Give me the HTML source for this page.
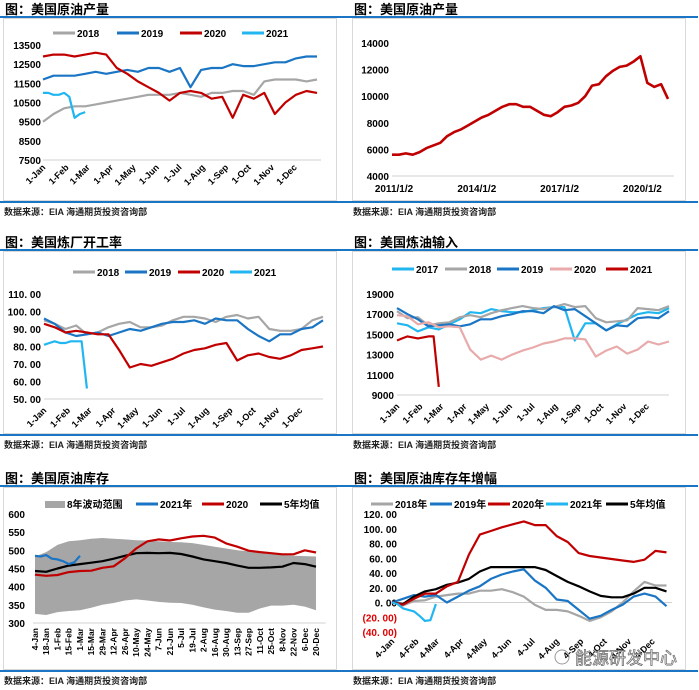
<!DOCTYPE html>
<html><head><meta charset="utf-8">
<style>
html,body{margin:0;padding:0;background:#fff;}
svg{display:block;font-family:"Liberation Sans","Noto Sans CJK SC",sans-serif;}
</style></head>
<body>
<svg id="root" width="699" height="690" viewBox="0 0 699 690" xmlns="http://www.w3.org/2000/svg"></svg>
<script>
// ---------- data ----------
// Panel 1: US crude production (weekly index, biweekly samples)
const p1Cats = ['1-Jan','1-Feb','1-Mar','1-Apr','1-May','1-Jun','1-Jul','1-Aug','1-Sep','1-Oct','1-Nov','1-Dec'];
const p1Ticks = [13500,12500,11500,10500,9500,8500,7500];
const p1S2018 = [9500,9900,10200,10300,10300,10400,10500,10600,10700,10800,10900,10900,10900,11000,10900,10800,11000,11000,11100,11100,10900,11600,11700,11700,11700,11600,11700];
const p1S2019 = [11700,11900,11900,11900,12000,12100,12000,12100,12200,12100,12300,12300,12100,12300,11300,12200,12300,12300,12500,12400,12400,12500,12600,12600,12800,12900,12900];
const p1S2020 = [12900,13000,13000,12900,13000,13100,13000,12300,12000,11600,11300,11000,10600,11000,11100,11000,10700,10800,9700,10900,10700,11000,9900,10500,10900,11100,11000];
const p1S2021 = [11000,11000,10900,10900,11000,10800,9700,9900,10000];
// Panel 2: long-run production (quarterly from 2011)
const p2Ticks = [14000,12000,10000,8000,6000,4000];
const p2Years = ['2011/1/2','2014/1/2','2017/1/2','2020/1/2'];
const p2Vals = [5600,5600,5700,5600,5800,6100,6300,6500,7000,7300,7500,7800,8100,8400,8600,8900,9200,9400,9400,9200,9200,8900,8600,8500,8800,9200,9300,9500,10000,10800,10900,11500,11900,12200,12300,12600,13000,11000,10700,10900,9800];
// Panel 3: refinery utilization
const p3Ticks = [110,100,90,80,70,60,50];
const p3S2018 = [95,93,90,92,87,88,91,93,94,91,91,92,95,97,97,96,94,97,98,96,97,90,89,89,90,95,97];
const p3S2019 = [96,93,88,86,87,88,86,88,90,89,91,93,94,94,95,93,96,95,95,90,86,83,87,87,90,91,95];
const p3S2020 = [93,91,88,89,88,87,87,78,68,70,69,71,73,76,78,79,81,82,72,75,76,74,73,75,78,79,80];
const p3S2021 = [81,82,83,82,82,83,83,83,56];
// Panel 4: refinery input
const p4Ticks = [19000,17000,15000,13000,11000,9000];
const p4S2017 = [16100,15900,15300,15700,15500,16000,16500,17200,17100,17500,17300,17200,17200,17400,17600,17700,17700,14400,16100,16100,15400,16000,16500,17000,17200,17100,17600];
const p4S2018 = [17300,16600,16700,15900,16100,16200,16700,16900,16700,17100,17400,17600,17800,17600,17500,17700,18000,17700,17800,16600,16200,16300,16400,17600,17500,17400,17800];
const p4S2019 = [17600,17000,16500,15800,15900,16000,15800,16000,16500,16500,16800,17000,17300,17300,17100,17800,17400,17500,16800,16100,15400,15900,15800,16600,16700,16600,17300];
const p4S2020 = [16900,16800,16000,16200,15700,15800,15700,13500,12500,12900,12500,13000,13400,13700,14100,14300,14600,14600,14500,12800,13400,13800,13100,13500,14300,14000,14300];
const p4S2021 = [14400,14600,14800,14700,14600,14700,14800,14800,9800];
// Panel 5: crude inventory
const p5Cats = ['4-Jan','18-Jan','1-Feb','15-Feb','1-Mar','15-Mar','29-Mar','12-Apr','26-Apr','10-May','24-May','7-Jun','21-Jun','5-Jul','19-Jul','2-Aug','16-Aug','30-Aug','13-Sep','27-Sep','11-Oct','25-Oct','8-Nov','22-Nov','6-Dec','20-Dec'];
const p5Ticks = [600,550,500,450,400,350,300];
const p5BandTop = [483,495,515,525,528,532,534,532,530,528,527,525,523,522,520,515,510,505,500,497,492,490,488,485,484,483];
const p5BandBot = [325,322,330,333,335,342,350,355,362,365,362,358,356,355,350,343,337,333,328,328,340,348,348,350,345,335];
const p5S2020 = [433,430,432,440,443,444,452,456,478,505,525,530,527,533,538,540,535,519,510,499,495,492,489,489,500,494];
const p5Avg = [443,441,450,458,462,466,470,477,485,492,493,492,493,490,483,475,470,465,458,452,452,453,455,465,462,455];
const p5S2021 = [485,483,487,477,475,470,462,467,485];
// Panel 6: inventory YoY
const p6Cats = ['4-Jan','4-Feb','4-Mar','4-Apr','4-May','4-Jun','4-Jul','4-Aug','4-Sep','4-Oct','4-Nov','4-Dec'];
const p6Ticks = [120,100,80,60,40,20,0,-20,-40];
const p6S2018 = [0,-4,2,3,8,10,12,12,16,16,18,14,8,-3,-10,-10,-12,-18,-25,-20,-12,0,15,28,23,23];
const p6S2019 = [0,5,10,8,10,0,8,16,22,32,38,42,45,30,20,4,2,-10,-22,-18,-10,-3,8,12,8,-5];
const p6S2020 = [0,-3,5,12,12,22,28,65,92,97,102,106,110,105,105,90,82,67,63,61,59,57,55,58,70,68];
const p6S2021 = [0,-2,-8,-10,-12,-18,-25,-24,-2];
const p6Avg = [0,-2,8,15,18,24,27,32,42,48,48,48,48,48,44,36,28,22,15,9,7,7,12,20,20,15];

// ---------- helpers ----------
const NS='http://www.w3.org/2000/svg';
const root=document.getElementById('root');
function el(tag,attrs,parent){const e=document.createElementNS(NS,tag);for(const k in attrs)e.setAttribute(k,attrs[k]);(parent||root).appendChild(e);return e;}
function txt(s,attrs,parent){const t=el('text',attrs,parent);t.textContent=s;return t;}
const C={gray:'#a6a6a6',blue:'#1a75c4',red:'#c00000',cyan:'#21b6f0',pink:'#e8aaaa',black:'#000'};
const monthWeeks=[0,4.43,8.43,12.86,17.14,21.57,25.86,30.29,34.71,39,43.43,47.71];

function frame(ox,oy,title,name){
  const g=el('g',{});
  
  
  const t=txt(title,{x:ox+5,y:oy+14,'font-size':13,'font-weight':'bold',fill:'#000'},g);
  
  
  const r1=el('rect',{x:ox,y:oy+16,width:349,height:2,fill:'#1a75c4'},g);
  
  
  const b=el('rect',{x:ox+3.5,y:oy+18.5,width:333,height:182,fill:'#fff',stroke:'#d9d9d9','stroke-width':1},g);
  
  
  const r2=el('rect',{x:ox,y:oy+201,width:349,height:2,fill:'#1a75c4'},g);
  
  
  const s=txt('数据来源：EIA    海通期货投资咨询部',{x:ox+4,y:oy+215,'font-size':9,'font-weight':'bold',fill:'#222'},g);
  
  
  return g;
}
function legendLine(g,x,y,color,label,w){
  const l=el('line',{x1:x,y1:y,x2:x+(w||22),y2:y,stroke:color,'stroke-width':3},g);
  
  
  const t=txt(label,{x:x+(w||22)+2,y:y+4,'font-size':10,'font-weight':'bold',fill:'#000'},g);
  
  
}
function series(g,vals,step,xf,yf,color,width,name){
  const pts=vals.map((v,i)=>xf(i*step).toFixed(1)+','+yf(v).toFixed(1)).join(' ');
  const p=el('polyline',{points:pts,fill:'none',stroke:color,'stroke-width':width||2.2,'stroke-linejoin':'round'},g);
  
  
}
function yTicks(g,ticks,yf,xr,fmt,colorFn){
  ticks.forEach(v=>{
    const t=txt(fmt?fmt(v):String(v),{x:xr,y:yf(v)+4,'font-size':10,'font-weight':'bold','text-anchor':'end',fill:colorFn?colorFn(v):'#000'},g);
    
    
  });
}
function axisLine(g,x1,x2,y){
  const l=el('line',{x1:x1,x2:x2,y1:y,y2:y,stroke:'#d0d0d0','stroke-width':1},g);
  
  
}
function rotLabels(g,cats,xs,y,angle,size){
  cats.forEach((c,i)=>{
    const x=xs[i];
    const t=txt(c,{x:x,y:y,'font-size':size||9,'font-weight':'bold','text-anchor':'end',fill:'#000',transform:`rotate(${angle} ${x} ${y})`},g);
    
    
  });
}

// ---------- Panel 1 ----------
(function(){
  const g=frame(0,0,'图：美国原油产量','production-weekly');
  const x0=43,x1=317,y0=45,y1=160;
  const xf=w=>x0+(x1-x0)*w/52;
  const yf=v=>y0+(13500-v)*(y1-y0)/6000;
  axisLine(g,x0,x1+4,y1);
  yTicks(g,p1Ticks,yf,41);
  rotLabels(g,p1Cats,monthWeeks.map(w=>xf(w)+3),y1+8,-45);
  series(g,p1S2018,2,xf,yf,C.gray,2.2,'line-2018');
  series(g,p1S2019,2,xf,yf,C.blue,2.2,'line-2019');
  series(g,p1S2020,2,xf,yf,C.red,2.2,'line-2020');
  series(g,p1S2021,1,xf,yf,C.cyan,2.2,'line-2021');
  legendLine(g,53,33,C.gray,'2018');
  legendLine(g,117,33,C.blue,'2019');
  legendLine(g,180,33,C.red,'2020');
  legendLine(g,242,33,C.cyan,'2021');
})();

// ---------- Panel 2 ----------
(function(){
  const ox=349;
  const g=frame(ox,0,'图：美国原油产量','production-longrun');
  const x0=ox+43,x1=ox+325,y0=43,y1=176;
  const xf=yr=>x0+yr*27.6;
  const yf=v=>y0+(14000-v)*(y1-y0)/10000;
  axisLine(g,x0,x1,y1);
  yTicks(g,p2Ticks,yf,ox+40);
  p2Years.forEach((s,i)=>{
    const t=txt(s,{x:xf(i*3)+2,y:192,'font-size':10,'font-weight':'bold','text-anchor':'middle',fill:'#000'},g);
    
    
  });
  series(g,p2Vals,0.25,xf,yf,C.red,2.6,'production-line');
})();

// ---------- Panel 3 ----------
(function(){
  const g=frame(0,233,'图：美国炼厂开工率','refinery-utilization');
  const x0=44,x1=323,y0=294,y1=399;
  const xf=w=>x0+(x1-x0)*w/52;
  const yf=v=>y0+(110-v)*(y1-y0)/60;
  axisLine(g,x0,x1,y1);
  yTicks(g,p3Ticks,yf,41,v=>v.toFixed(2).replace('.','. '));
  rotLabels(g,p1Cats,monthWeeks.map(w=>xf(w)+3),y1+12,-45);
  series(g,p3S2018,2,xf,yf,C.gray,2.2,'line-2018');
  series(g,p3S2019,2,xf,yf,C.blue,2.2,'line-2019');
  series(g,p3S2020,2,xf,yf,C.red,2.2,'line-2020');
  series(g,p3S2021,1,xf,yf,C.cyan,2.2,'line-2021');
  legendLine(g,73,272,C.gray,'2018');
  legendLine(g,125,272,C.blue,'2019');
  legendLine(g,178,272,C.red,'2020');
  legendLine(g,230,272,C.cyan,'2021');
})();

// ---------- Panel 4 ----------
(function(){
  const ox=349;
  const g=frame(ox,233,'图：美国炼油输入','refinery-input');
  const x0=ox+48,x1=ox+320,y0=294,y1=395;
  const xf=w=>x0+(x1-x0)*w/52;
  const yf=v=>y0+(19000-v)*(y1-y0)/10000;
  axisLine(g,x0,x1,y1);
  yTicks(g,p4Ticks,yf,ox+45);
  rotLabels(g,p1Cats,monthWeeks.map(w=>xf(w)+3),y1+12,-45);
  series(g,p4S2017,2,xf,yf,C.cyan,2.2,'line-2017');
  series(g,p4S2018,2,xf,yf,C.gray,2.2,'line-2018');
  series(g,p4S2019,2,xf,yf,C.blue,2.2,'line-2019');
  series(g,p4S2020,2,xf,yf,C.pink,2.2,'line-2020');
  series(g,p4S2021,1,xf,yf,C.red,2.2,'line-2021');
  legendLine(g,ox+43,269,C.cyan,'2017');
  legendLine(g,ox+96,269,C.gray,'2018');
  legendLine(g,ox+148,269,C.blue,'2019');
  legendLine(g,ox+201,269,C.pink,'2020');
  legendLine(g,ox+257,269,C.red,'2021');
})();

// ---------- Panel 5 ----------
(function(){
  const g=frame(0,469,'图：美国原油库存','crude-inventory');
  const x0=35,step=11.24,y0=514,y1=623;
  const xf=w=>x0+step*w/2;
  const yf=v=>y0+(600-v)*(y1-y0)/300;
  // band
  const top=p5BandTop.map((v,i)=>xf(i*2).toFixed(1)+','+yf(v).toFixed(1));
  const bot=p5BandBot.map((v,i)=>xf(i*2).toFixed(1)+','+yf(v).toFixed(1)).reverse();
  const band=el('polygon',{points:top.concat(bot).join(' '),fill:'#a6a6a6'},g);
  
  
  axisLine(g,x0-2,xf(51)+4,y1);
  yTicks(g,p5Ticks,yf,25);
  rotLabels(g,p5Cats,p5Cats.map((c,i)=>xf(i*2)+3),y1+5,-90,8.5);
  series(g,p5Avg,2,xf,yf,C.black,2.2,'line-5yr-avg');
  series(g,p5S2020,2,xf,yf,C.red,2.2,'line-2020');
  series(g,p5S2021,1,xf,yf,C.blue,2.2,'line-2021');
  const sw=el('rect',{x:45,y:501,width:20,height:7,fill:'#a6a6a6'},g);
  
  
  const lt=txt('8年波动范围',{x:67,y:508,'font-size':10,'font-weight':'bold',fill:'#000'},g);
  
  
  legendLine(g,136,504,C.blue,'2021年');
  legendLine(g,202,504,C.red,'2020');
  legendLine(g,260,504,C.black,'5年均值');
})();

// ---------- Panel 6 ----------
(function(){
  const ox=349;
  const g=frame(ox,469,'图：美国原油库存年增幅','inventory-yoy');
  const x0=ox+43,x1=ox+323,y0=514,y1=632;
  const xf=w=>x0+(x1-x0)*w/51;
  const yf=v=>y0+(120-v)*(y1-y0)/160;
  axisLine(g,x0,x1,yf(0));
  yTicks(g,p6Ticks,yf,ox+48,v=>v<0?'('+Math.abs(v).toFixed(2).replace('.','. ')+')':v.toFixed(2).replace('.','. '),v=>v<0?'#e00000':'#000');
  rotLabels(g,p6Cats,[0,4.43,8.14,12.57,16.86,21.29,25.57,30,34.43,38.71,43.14,47.43].map(w=>xf(w)+3),yf(-40)+10,-45);
  series(g,p6S2018,2,xf,yf,C.gray,2.2,'line-2018');
  series(g,p6S2019,2,xf,yf,C.blue,2.2,'line-2019');
  series(g,p6Avg,2,xf,yf,C.black,2.2,'line-5yr-avg');
  series(g,p6S2020,2,xf,yf,C.red,2.2,'line-2020');
  series(g,p6S2021,1,xf,yf,C.cyan,2.2,'line-2021');
  legendLine(g,ox+22,504,C.gray,'2018年');
  legendLine(g,ox+81,504,C.blue,'2019年');
  legendLine(g,ox+139,504,C.red,'2020年');
  legendLine(g,ox+197,504,C.cyan,'2021年');
  legendLine(g,ox+257,504,C.black,'5年均值');
  const wm=txt('能源研发中心',{x:ox+226,y:664,'font-size':17,fill:'#fff',stroke:'#666','stroke-width':0.7},g);
  
  
  const wc=el('circle',{cx:ox+213,cy:657,r:7,fill:'none',stroke:'#999','stroke-width':1},g);
  
  
})();
</script>
</body></html>
